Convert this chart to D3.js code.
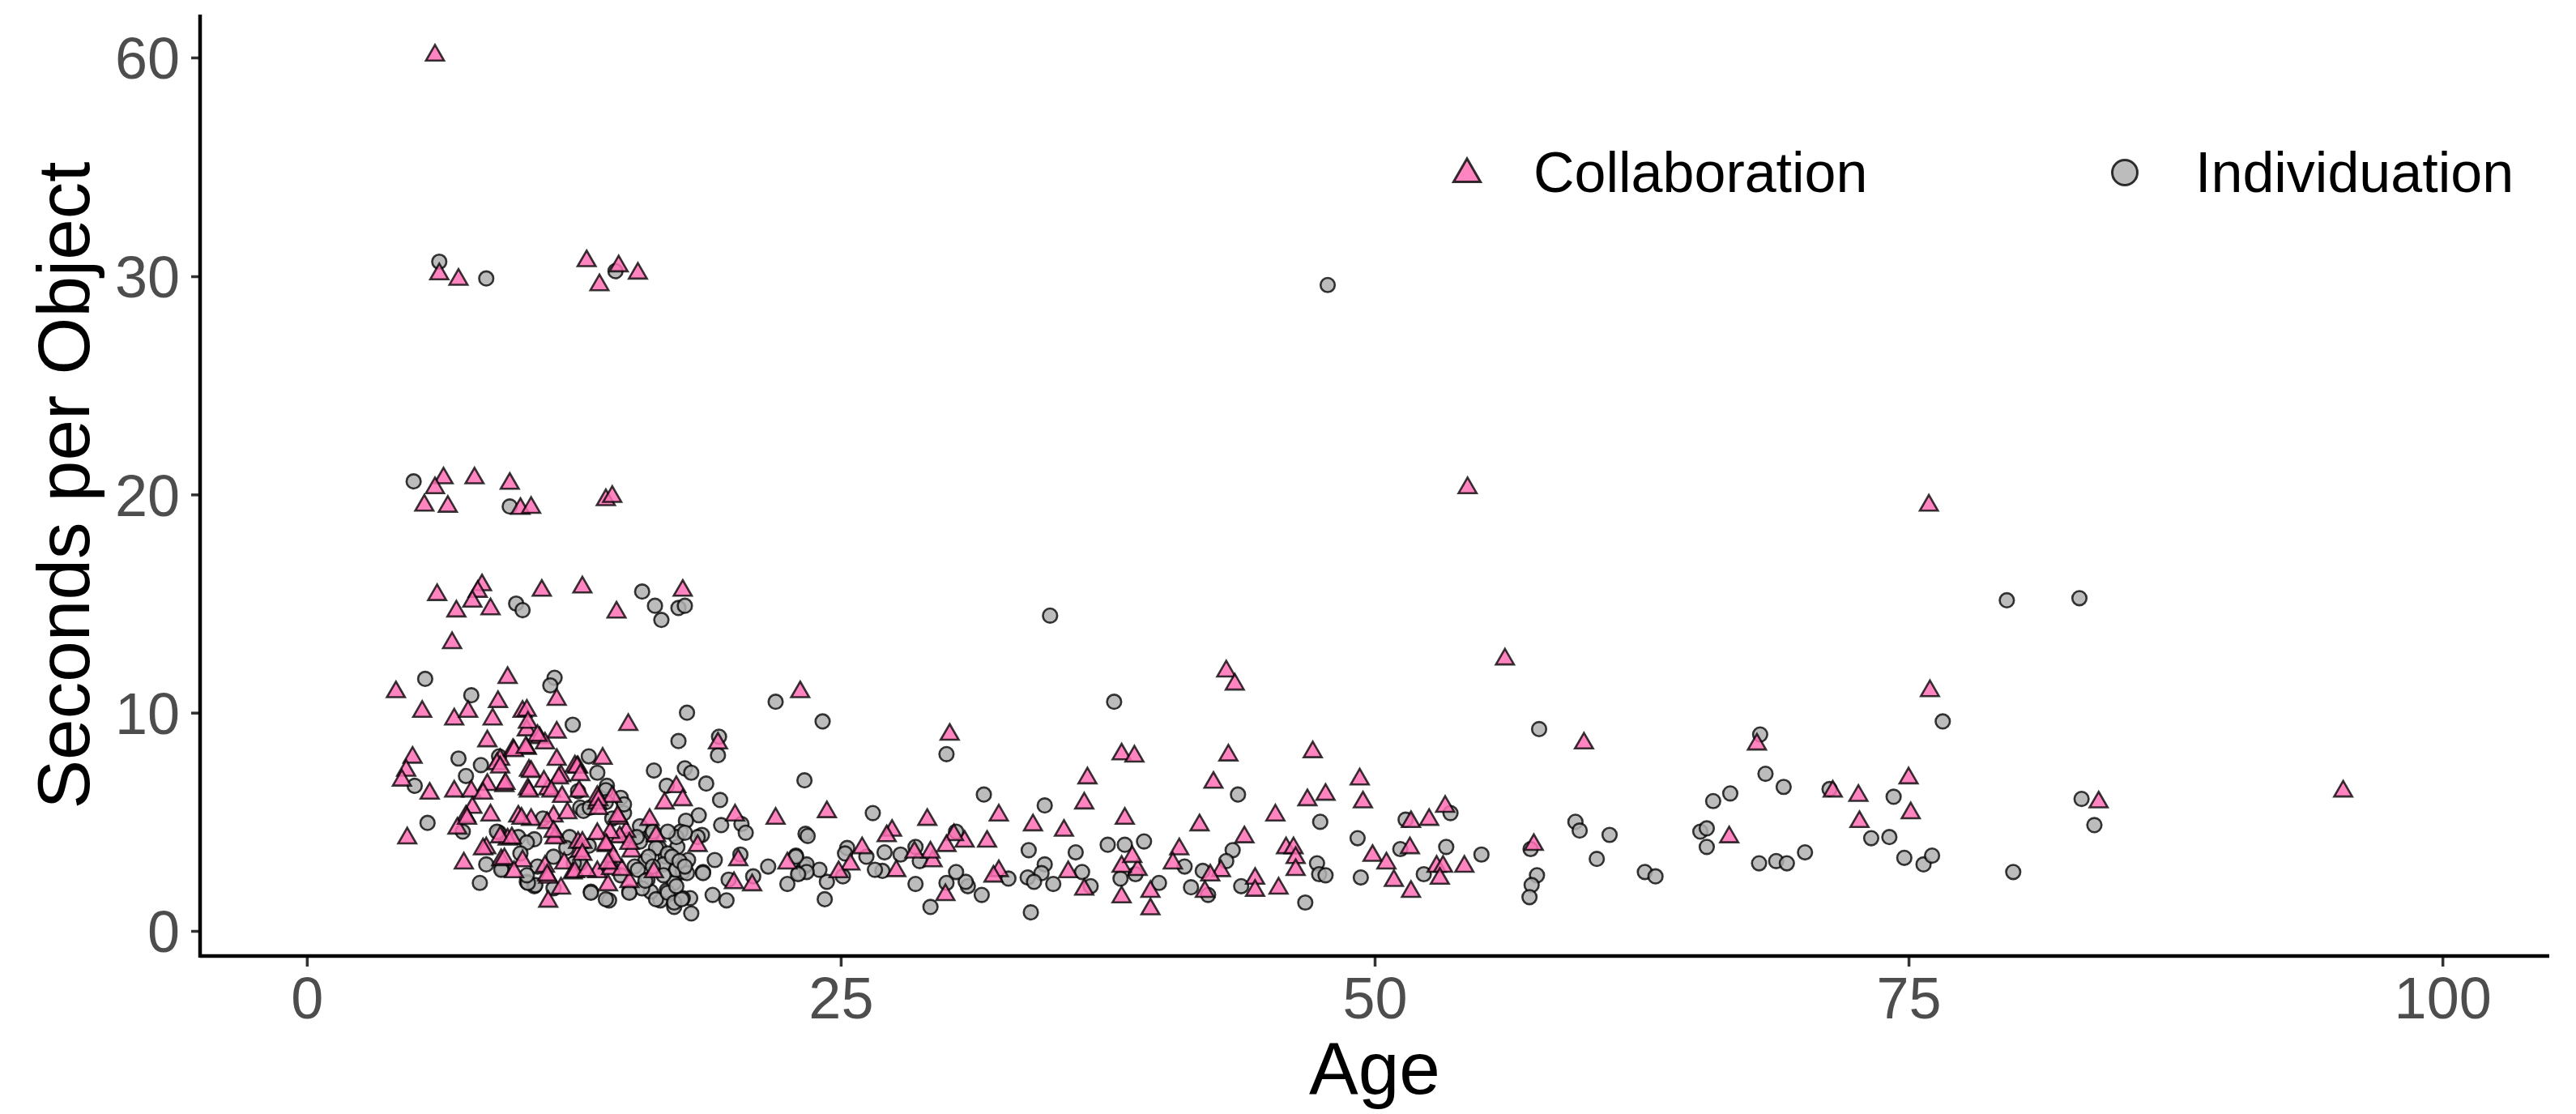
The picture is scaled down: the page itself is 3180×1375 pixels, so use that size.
<!DOCTYPE html>
<html>
<head>
<meta charset="utf-8">
<script src="https://cdn.jsdelivr.net/npm/d3@7"></script>
<style>
  html, body { margin: 0; padding: 0; background: #ffffff; }
  svg { display: block; }
</style>
</head>
<body>
<script>
// ---------------- DATA ----------------
const seriesNames = ["Collaboration", "Individuation"];
const xTicks = [0, 25, 50, 75, 100];
const yTicks = [0, 10, 20, 30, 60];
const xTitle = "Age";
const yTitle = "Seconds per Object";

// [age, seconds per object]
const collaboration = [
  [6.0,60.3],[6.2,30.3],[7.1,29.85],[13.1,32.1],[13.7,29.6],[14.6,31.4],[15.5,30.4],
  [6.4,20.75],[6.0,20.3],[7.85,20.75],[9.5,20.5],[5.5,19.5],[6.6,19.45],[10.0,19.35],[10.5,19.4],[14.0,19.75],[14.3,19.9],
  [6.1,15.4],[8.2,15.85],[8.0,15.55],[7.75,15.1],[7.0,14.65],[8.6,14.75],[11.0,15.6],[12.9,15.75],[14.5,14.6],[17.6,15.6],[6.8,13.2],
  [4.17,10.95],[9.4,11.6],[11.7,10.6],[5.4,10.05],[6.9,9.7],[7.55,10.05],[8.95,10.5],[8.7,9.7],[10.1,10.05],[10.3,9.2],[11.7,9.1],
  [8.45,8.7],[10.9,8.85],[11.15,8.6],[4.95,7.95],[4.65,7.35],[4.45,6.9],[5.75,6.3],[9.05,7.85],[6.9,6.4],[7.7,6.4],[8.45,6.7],
  [9.65,8.3],[10.3,8.35],[10.4,7.35],[9.25,6.65],[10.35,6.5],[11.3,6.5],[11.9,7.1],[12.55,7.55],[7.75,5.65],[8.6,5.3],[7.45,5.25],
  [7.05,4.7],[4.7,4.25],[9.9,5.25],[10.5,5.1],[11.55,5.25],[12.2,5.4],[11.7,4.3],[8.4,3.8],[9.4,4.2],[9.1,3.25],[10.1,3.2],[7.35,3.1],
  [11.15,2.95],[11.3,2.45],[12.05,3.1],[11.9,1.95],[11.3,1.35],[12.45,2.65],[12.7,4.05],[12.7,7.5],
  [15.05,9.45],[19.25,8.6],[23.1,10.95],[13.85,7.9],[17.3,6.6],[16.75,5.85],[17.6,6.0],[16.05,5.1],[20.05,5.3],[21.95,5.15],
  [18.3,3.9],[20.2,3.25],[22.5,3.1],[20.0,2.2],[20.85,2.1],[16.25,2.7],[15.1,2.25],[14.1,2.1],[15.2,3.65],[14.95,4.55],[14.65,4.3],
  [14.2,4.5],[13.6,4.45],[14.6,5.15],[14.25,3.05],[13.6,2.7],[12.55,2.7],[12.8,3.65],[14.05,3.9],[13.6,5.85],[13.6,6.15],[14.3,6.15],[12.75,6.4],
  [54.35,20.3],[56.1,12.45],[43.05,11.9],[43.45,11.3],[30.1,9.0],[38.15,8.1],[38.75,8.0],[43.15,8.05],[47.1,8.2],[36.55,7.0],
  [42.45,6.8],[49.3,6.95],[49.45,5.9],[46.85,6.0],[47.7,6.25],[36.4,5.85],[24.35,5.45],[29.05,5.1],[32.4,5.3],[34.0,4.85],
  [35.45,4.6],[38.3,5.15],[41.8,4.85],[45.35,5.3],[51.7,5.0],[52.55,5.1],[53.3,5.7],[51.65,3.8],[49.9,3.45],[50.55,3.1],
  [50.9,2.3],[51.7,1.8],[52.9,2.95],[53.2,2.95],[53.05,2.4],[54.2,2.95],[43.9,4.3],[40.85,3.75],[45.85,3.8],[46.2,3.8],
  [46.3,3.35],[46.3,2.8],[45.5,1.95],[44.4,2.4],[44.4,1.85],[42.8,2.75],[42.3,2.55],[42.05,1.8],[40.55,3.1],[39.5,1.8],
  [39.5,1.0],[38.15,1.55],[38.9,2.8],[38.15,2.95],[38.65,3.4],[36.4,1.9],[35.65,2.7],[32.4,2.75],[32.15,2.5],[31.85,4.1],
  [30.8,4.1],[30.3,4.4],[29.95,3.9],[29.9,1.65],[29.3,3.2],[29.2,3.6],[28.45,3.6],[27.6,2.75],[27.4,4.6],[27.15,4.35],
  [26.0,3.8],[25.45,3.05],[24.9,2.7],
  [75.95,19.5],[76.0,11.0],[59.8,8.6],[67.9,8.55],[71.45,6.4],[72.65,6.2],[75.0,7.0],[75.1,5.4],[72.7,5.0],[83.9,5.9],[95.35,6.4],[66.6,4.3],[57.45,3.95],
  [10.3,10.1],[10.35,9.55],[10.8,8.95],[11.7,7.85],[12.65,7.5],[12.8,7.15],[8.9,7.65],[9.05,7.5],[9.7,8.25],[10.25,8.4],[9.3,6.75],
  [8.25,6.3],[10.5,7.3],[10.4,6.4],[11.1,6.85],[11.8,7.0],[11.45,6.4],[11.95,6.15],[7.5,5.15],[10.05,5.15],[11.25,4.95],[13.65,6.0],
  [13.65,5.6],[14.55,5.25],[9.05,4.3],[9.6,4.25],[11.6,4.25],[11.55,4.55],[12.9,4.05],[14.0,3.95],[15.1,4.0],[11.25,2.55],[13.1,2.75],
  [14.25,2.85],[14.75,2.8],[9.25,3.3],[9.7,2.7],[8.25,3.75],[12.9,3.5],[14.35,3.4],[14.1,3.1],[16.35,4.35]
];

const individuation = [
  [6.2,32.0],[8.4,29.9],[14.45,30.7],[47.8,29.6],
  [5.0,20.6],[9.5,19.45],
  [9.8,15.0],[10.1,14.7],[15.7,15.55],[16.3,14.9],[16.6,14.25],[17.4,14.8],[17.7,14.9],[34.8,14.45],[79.6,15.15],[83.0,15.25],
  [5.54,11.55],[11.6,11.6],[11.4,11.25],[7.7,10.8],[12.45,9.45],[5.05,6.65],[7.1,7.9],[8.15,7.6],[9.0,8.0],[7.45,7.1],[5.65,4.95],
  [7.3,4.55],[9.0,4.5],[10.65,4.2],[9.9,4.3],[8.4,3.05],[9.15,2.85],[8.1,2.2],[10.3,2.25],[10.65,2.05],[11.55,1.95],[12.8,3.1],[12.8,5.65],[12.7,6.4],
  [17.8,10.0],[17.4,8.7],[19.3,8.9],[19.25,8.05],[21.95,10.5],[23.3,6.9],[13.2,8.0],[13.6,7.25],[16.25,7.35],[17.7,7.45],[18.0,7.25],
  [18.7,6.75],[16.85,6.65],[19.35,6.0],[18.35,5.3],[17.75,5.05],[19.4,4.85],[20.35,4.9],[20.55,4.5],[23.35,4.45],[18.5,4.4],
  [19.1,3.25],[20.3,3.5],[21.6,2.95],[22.9,3.45],[23.3,2.95],[23.05,2.65],[22.5,2.15],[20.9,2.5],[19.75,2.35],[19.0,1.65],
  [19.65,1.4],[18.55,2.7],[18.0,0.8],[17.2,1.1],[17.95,1.5],[17.6,1.5],[16.55,1.4],[16.1,1.8],[16.85,1.85],[17.2,2.2],
  [15.95,2.35],[15.85,3.2],[16.5,3.8],[16.8,3.4],[17.25,2.85],[17.6,2.7],[17.35,3.85],[17.85,3.25],[17.5,4.55],[16.15,4.4],
  [15.6,4.8],[15.1,1.8],[14.15,1.4],[13.3,1.8],[14.7,6.1],[14.05,6.65],[12.95,5.5],[15.1,4.2],[15.35,2.95],[13.2,3.9],[12.3,4.3],[12.5,3.1],
  [24.15,9.6],[37.8,10.5],[29.95,8.1],[43.6,6.25],[31.7,6.25],[34.55,5.75],[26.5,5.4],[47.45,5.0],[51.45,5.1],[53.55,5.4],
  [49.2,4.25],[51.2,3.75],[53.35,3.85],[55.0,3.5],[49.35,2.45],[52.3,2.6],[47.3,3.1],[47.4,2.6],[47.7,2.55],[46.75,1.3],
  [43.75,2.05],[43.35,3.7],[43.05,3.2],[41.95,2.75],[42.2,1.65],[41.4,2.0],[41.1,2.95],[39.9,2.2],[38.8,2.6],[38.1,2.4],
  [38.3,3.95],[39.2,4.1],[37.5,3.95],[36.7,2.05],[36.3,2.7],[36.0,3.6],[34.95,2.15],[34.55,3.05],[34.4,2.65],[33.75,2.45],
  [34.05,2.25],[33.8,3.7],[33.9,0.85],[32.85,2.4],[31.6,1.65],[30.95,2.05],[30.85,2.25],[30.4,4.55],[30.4,2.7],[29.95,2.2],
  [29.2,1.1],[28.7,3.2],[28.5,3.85],[28.5,2.15],[27.8,3.5],[27.05,3.6],[26.95,2.75],[26.6,2.8],[26.2,3.4],[25.3,3.8],
  [25.2,3.55],[25.1,2.5],[24.35,2.25],[24.25,1.45],[24.0,2.8],[23.45,4.35],[23.4,3.05],[23.4,2.7],[22.9,3.4],[23.0,2.6],
  [76.6,9.6],[57.7,9.25],[68.05,9.0],[68.3,7.2],[69.15,6.6],[66.65,6.3],[65.85,5.95],[71.3,6.5],[74.3,6.15],[83.1,6.05],
  [83.7,4.85],[59.4,5.0],[59.6,4.6],[61.0,4.4],[60.4,3.3],[65.25,4.55],[65.55,4.7],[65.55,3.85],[62.65,2.7],[63.15,2.5],
  [68.0,3.1],[68.8,3.2],[69.3,3.1],[70.15,3.6],[73.25,4.25],[74.1,4.3],[74.8,3.35],[75.7,3.05],[76.1,3.45],[79.9,2.7],
  [57.3,3.75],[57.6,2.55],[57.35,2.1],[57.25,1.55],
  [8.9,4.55],[10.3,4.05],[11.05,5.15],[13.25,5.65],[14.0,6.45],[14.85,5.4],[15.6,4.1],[15.5,2.8],[16.35,3.8],[16.9,3.55],
  [16.7,3.05],[17.3,2.8],[17.8,2.65],[15.7,1.95],[16.35,1.45],[16.9,1.75],[17.2,1.3],[17.55,1.45],[14.0,1.45],[13.3,1.75],
  [15.1,1.75],[10.7,2.1],[10.35,2.2],[9.1,2.8],[11.55,3.4],[12.15,3.8],[16.0,3.4],[15.85,2.3],[17.3,2.05],[17.1,3.4],
  [17.45,3.2],[17.7,2.95],[18.55,2.65],[18.3,4.3],[17.3,4.3],[17.7,4.5],[16.9,4.55],[16.2,4.55],[15.45,4.3],[14.3,5.15],
  [14.85,5.8],[14.0,5.9],[14.7,2.55],[16.7,2.55],[16.2,2.95],[10.0,3.55],[10.8,2.95],[10.3,2.55]
];

// ---------------- LAYOUT ----------------
const W = 3180, H = 1375;
const panel = { left: 247, right: 3147, top: 18, bottom: 1180 };
const fontFamily = "'Liberation Sans', Arial, Helvetica, sans-serif";
const pinkFill = "#FF6EB4", grayFill = "#B0B0B0";

const svg = d3.select("body").append("svg")
  .attr("width", W).attr("height", H)
  .style("font-family", fontFamily);

svg.append("rect").attr("width", W).attr("height", H).attr("fill", "#fff");

const x = d3.scaleLinear().domain([-5, 105]).range([panel.left, panel.right]);
// y axis: linear up to 30, compressed from 30 to 60 (piecewise / polylinear)
const y = d3.scaleLinear().domain([-1.15, 30, 60, 65.9]).range([panel.bottom, 341, 71, panel.top]);

// ---------------- POINTS ----------------
const gPts = svg.append("g");
const triSym = d3.symbol().type(d3.symbolTriangle).size(215);

gPts.selectAll("circle.ind").data(individuation).join("circle")
  .attr("class", "ind")
  .attr("cx", d => x(d[0])).attr("cy", d => y(d[1]))
  .attr("r", 8.8)
  .attr("fill", grayFill).attr("fill-opacity", 0.85)
  .attr("stroke", "#000").attr("stroke-opacity", 0.78).attr("stroke-width", 2.6);

gPts.selectAll("path.col").data(collaboration).join("path")
  .attr("class", "col")
  .attr("d", triSym)
  .attr("transform", d => `translate(${x(d[0])},${y(d[1])})`)
  .attr("fill", pinkFill).attr("fill-opacity", 0.85)
  .attr("stroke", "#000").attr("stroke-opacity", 0.78).attr("stroke-width", 2.6);

// ---------------- AXES ----------------
const tickColor = "#333333", labelColor = "#4D4D4D";
const xAxis = svg.append("g").attr("transform", `translate(0,${panel.bottom})`)
  .call(d3.axisBottom(x).tickValues(xTicks).tickSize(13).tickPadding(0).tickFormat(d3.format("d")));
xAxis.select(".domain").remove();
xAxis.selectAll(".tick line").attr("stroke", tickColor).attr("stroke-width", 3.5);
xAxis.selectAll(".tick text").attr("fill", labelColor).attr("font-size", 72)
  .attr("dy", null).attr("y", 77).style("font-family", fontFamily);

const yAxis = svg.append("g").attr("transform", `translate(${panel.left},0)`)
  .call(d3.axisLeft(y).tickValues(yTicks).tickSize(11).tickPadding(0).tickFormat(d3.format("d")));
yAxis.select(".domain").remove();
yAxis.selectAll(".tick line").attr("stroke", tickColor).attr("stroke-width", 3.5);
yAxis.selectAll(".tick text").attr("fill", labelColor).attr("font-size", 72)
  .attr("x", -25).attr("dy", "0.36em").style("font-family", fontFamily);

// axis lines
svg.append("line").attr("x1", panel.left).attr("x2", panel.right)
  .attr("y1", panel.bottom).attr("y2", panel.bottom)
  .attr("stroke", "#000").attr("stroke-width", 4.5);
svg.append("line").attr("x1", panel.left).attr("x2", panel.left)
  .attr("y1", panel.top).attr("y2", panel.bottom + 2)
  .attr("stroke", "#000").attr("stroke-width", 4.5);

// axis titles
svg.append("text").text(xTitle)
  .attr("x", (panel.left + panel.right) / 2).attr("y", 1350)
  .attr("text-anchor", "middle").attr("font-size", 91).attr("fill", "#000");
svg.append("text").text(yTitle)
  .attr("transform", `translate(110,${(panel.top + panel.bottom) / 2}) rotate(-90)`)
  .attr("text-anchor", "middle").attr("font-size", 91).attr("fill", "#000");

// ---------------- LEGEND ----------------
const legend = svg.append("g");
const legItems = [
  { name: seriesNames[0], kx: 1811, tx: 1893, type: "tri" },
  { name: seriesNames[1], kx: 2623, tx: 2710, type: "circ" }
];
const ky = 213;
legItems.forEach(it => {
  if (it.type === "tri") {
    legend.append("path")
      .attr("d", d3.symbol().type(d3.symbolTriangle).size(480)())
      .attr("transform", `translate(${it.kx},${ky + 2})`)
      .attr("fill", pinkFill).attr("fill-opacity", 0.85)
      .attr("stroke", "#000").attr("stroke-opacity", 0.8).attr("stroke-width", 3);
  } else {
    legend.append("circle").attr("cx", it.kx).attr("cy", ky).attr("r", 15.5)
      .attr("fill", grayFill).attr("fill-opacity", 0.85)
      .attr("stroke", "#000").attr("stroke-opacity", 0.8).attr("stroke-width", 3);
  }
  legend.append("text").text(it.name)
    .attr("x", it.tx).attr("y", 237)
    .attr("font-size", 70).attr("fill", "#000");
});
</script>
</body>
</html>
